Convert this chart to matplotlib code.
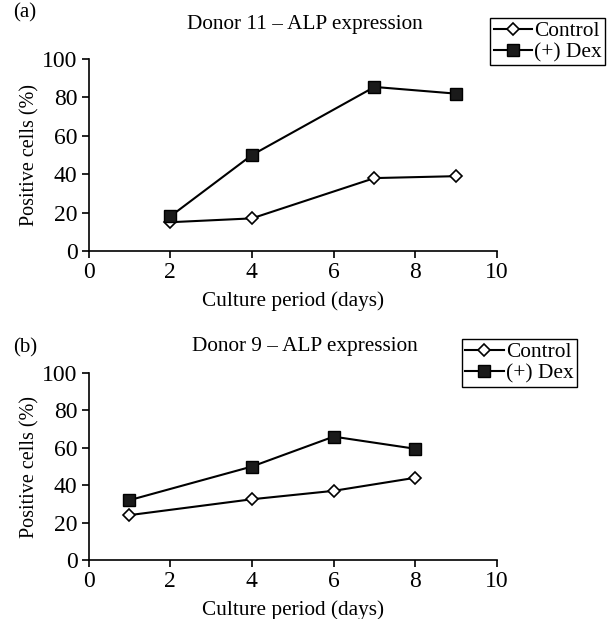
import numpy as np
import matplotlib.pyplot as plt

plt.rcParams['font.family'] = ['Liberation Serif', 'DejaVu Serif']

# panel (a) - Donor 11
days_a = [2, 4, 7, 9]
control_a = [15, 17, 38, 39]
dex_a = [18, 50, 85.5, 82]

# panel (b) - Donor 9
days_b = [1, 4, 6, 8]
control_b = [24, 32.5, 37, 44]
dex_b = [32, 50, 66, 59.5]

xticks = [0, 2, 4, 6, 8, 10]
yticks = [0, 20, 40, 60, 80, 100]

fig = plt.figure(figsize=(6.07, 6.19), dpi=100)

# rect, tag, title, data, legend anchor, title y, tag y
panels = [
    ([0.1458, 0.5945, 0.673, 0.310], '(a)', 'Donor 11 \u2013 ALP expression',
     days_a, control_a, dex_a, (0.808, 0.971), 1 - 24 / 619, 1 - 13 / 619),
    ([0.1458, 0.0953, 0.673, 0.302], '(b)', 'Donor 9 \u2013 ALP expression',
     days_b, control_b, dex_b, (0.761, 0.452), 1 - 347 / 619, 1 - 348 / 619),
]

for rect, tag, title, x, ctrl, dex, leg_pos, ty, tagy in panels:
    ax = fig.add_axes(rect)
    ax.plot(x, ctrl, color='black', lw=1.5, marker='D', ms=6.5,
            mfc='white', mec='black', mew=1.2, label='Control')
    ax.plot(x, dex, color='black', lw=1.5, marker='s', ms=9,
            mfc='#1a1a1a', mec='black', label='(+) Dex')
    ax.set_xlim(0, 10)
    ax.set_ylim(0, 100)
    ax.set_xticks(xticks)
    ax.set_yticks(yticks)
    for s in ['top', 'right']:
        ax.spines[s].set_visible(False)
    for s in ['left', 'bottom']:
        ax.spines[s].set_linewidth(1.2)
    ax.tick_params(direction='out', length=5, width=1.2, labelsize=17, pad=3)
    ax.set_xlabel('Culture period (days)', fontsize=15.3, labelpad=6)
    ax.set_ylabel('Positive cells (%)', fontsize=14.5, labelpad=2)
    fig.text(0.503, ty, title, ha='center', va='center', fontsize=15.3)
    fig.text(0.021, tagy, tag, ha='left', va='center', fontsize=15)
    leg = fig.legend(handles=ax.get_lines(), loc='upper left',
                     bbox_to_anchor=leg_pos, frameon=True, fancybox=False,
                     edgecolor='black', fontsize=15.4, handlelength=1.8,
                     handletextpad=0.1, borderpad=0.15, labelspacing=0.05,
                     borderaxespad=0.0, framealpha=1)
    leg.get_frame().set_linewidth(1.0)

fig.savefig('out.png', dpi=100)
